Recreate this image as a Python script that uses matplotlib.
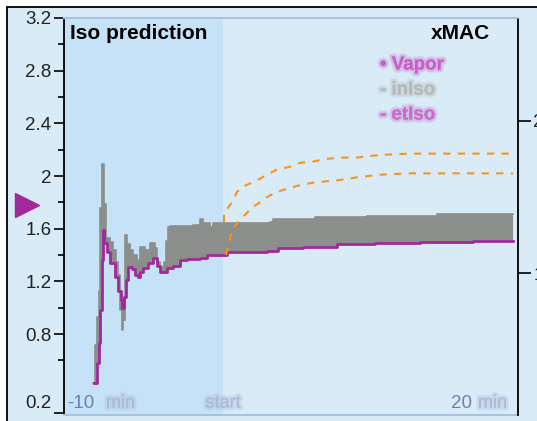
import matplotlib
matplotlib.use("Agg")
import numpy as np
import matplotlib.pyplot as plt
import matplotlib.patheffects as pe
from matplotlib.transforms import blended_transform_factory, ScaledTranslation

plt.rcParams['font.family'] = ['Liberation Sans', 'DejaVu Sans']

# --- data (time in minutes relative to now, concentrations in %) ---
et_t = [-8.09, -7.94, -7.78, -7.74, -7.63, -7.57, -7.48, -7.36, -7.28, -7.11,
        -6.79, -6.58, -6.43, -6.33, -6.23, -6.10, -5.96, -5.74, -5.53, -5.33,
        -5.22, -5.01, -4.70, -4.38, -4.17, -3.96, -3.75, -3.54, -3.12, -2.70,
        -2.28, -1.87, -1.45, -1.03, -0.61, 0.23, 1.07, 2.75, 3.46, 5.03,
        7.17, 9.56, 12.39, 15.72, 18.24]
et_iso = [0.43, 0.58, 0.73, 0.98, 1.36, 1.59, 1.49, 1.49, 1.42, 1.34,
          1.23, 1.13, 1.06, 1.00, 1.08, 1.21, 1.31, 1.29, 1.25, 1.23,
          1.27, 1.30, 1.34, 1.38, 1.32, 1.27, 1.27, 1.30, 1.32, 1.36,
          1.37, 1.37, 1.38, 1.40, 1.40, 1.42, 1.42, 1.43, 1.45, 1.46,
          1.48, 1.49, 1.50, 1.51, 1.51]

in_t = [-8.18, -8.05, -7.92, -7.80, -7.74, -7.61, -7.48, -7.36, -7.11, -6.92,
        -6.73, -6.58, -6.48, -6.38, -6.29, -6.16, -6.04, -5.85, -5.66, -5.41,
        -5.22, -4.91, -4.59, -4.28, -4.15, -3.96, -3.71, -3.58, -3.46, -3.33,
        -1.89, -1.45, -1.26, -0.82, -0.63, 2.96, 3.14, 5.79, 9.06, 13.46, 18.24]
in_iso = [0.43, 0.72, 0.93, 1.13, 1.76, 2.09, 1.79, 1.53, 1.50, 1.44,
          1.35, 1.25, 0.98, 0.83, 0.91, 1.55, 1.48, 1.44, 1.40, 1.36,
          1.46, 1.44, 1.49, 1.45, 1.35, 1.31, 1.35, 1.51, 1.61, 1.62,
          1.63, 1.67, 1.64, 1.61, 1.64, 1.65, 1.67, 1.69, 1.70, 1.71, 1.71]

pred_hi_t = [0.06, 0.06, 0.57, 0.88, 1.26, 1.82, 2.33, 2.77, 3.40, 4.21, 4.84,
             5.66, 6.54, 7.36, 8.43, 9.87, 11.76, 13.46, 18.24]
pred_hi = [1.65, 1.72, 1.80, 1.88, 1.92, 1.95, 1.98, 2.01, 2.05, 2.07, 2.10,
           2.11, 2.13, 2.14, 2.14, 2.16, 2.17, 2.17, 2.17]

pred_lo_t = [0.19, 0.57, 0.88, 1.26, 1.82, 2.33, 2.77, 3.40, 4.21, 4.84,
             5.66, 6.54, 7.36, 8.43, 9.87, 11.76, 13.46, 18.24]
pred_lo = [1.40, 1.59, 1.64, 1.69, 1.76, 1.80, 1.84, 1.88, 1.91, 1.93,
           1.95, 1.96, 1.97, 1.99, 2.01, 2.02, 2.02, 2.02]

vapor_setting = 1.78

y_major = [0.2, 0.8, 1.2, 1.6, 2.0, 2.4, 2.8, 3.2]
y_major_labels = ["0.2", "0.8", "1.2", "1.6", "2", "2.4", "2.8", "3.2"]
y_minor = [0.6, 1.0, 1.4, 1.8, 2.2, 2.6, 3.0]
mac_ticks = [1, 2]
mac_labels = ["1", "2"]

legend_items = [("\u2022 Vapor", "#c85ac8"), ("- inIso", "#b3b8b4"), ("- etIso", "#c868c8")]

# --- colours ---
BG = "#d9ebf6"
PAST = "#c6e2f7"
BAND = "#8b8e8a"
PURPLE = "#a0299c"
ORANGE = "#f7931e"
EDGE = "#a8c3dd"
AXLBL = "#7080b0"


def step_hold(t_src, v_src, t_new):
    """Value of a steps-post series at each time in t_new."""
    idx = np.searchsorted(t_src, t_new, side="right") - 1
    idx = np.clip(idx, 0, len(v_src) - 1)
    return np.asarray(v_src)[idx]


fig = plt.figure(figsize=(5.37, 4.21), dpi=100)
fig.patch.set_facecolor("white")

# outer panel with black frame on the left/top
panel = plt.Rectangle((7 / 537, -0.05), 1.0, 1 - 7 / 421 + 0.05, transform=fig.transFigure,
                      facecolor=BG, edgecolor="black", linewidth=1.3, zorder=-10)
fig.patches.append(panel)

ax = fig.add_axes([64 / 537, 6 / 421, 454 / 537, 397 / 421])
ax.set_facecolor(BG)
ax.set_xlim(-10, 18.55)
ax.set_ylim(0.2 - 2 / 131.67, 3.2)

ax.axvspan(-10, 0, color=PAST, lw=0, zorder=0)

# inspired / end-tidal band
t_all = np.union1d(in_t, et_t)
in_i = step_hold(in_t, in_iso, t_all)
et_i = step_hold(et_t, et_iso, t_all)
ax.fill_between(t_all, in_i, et_i, step="post", color=BAND, lw=0, zorder=2)
ax.plot(in_t, in_iso, drawstyle="steps-post", color=BAND, lw=1.2, zorder=2)
ax.plot(et_t, et_iso, drawstyle="steps-post", color=PURPLE, lw=2.0, zorder=3)

# predictions
ax.plot(pred_hi_t, pred_hi, color=ORANGE, lw=1.5, ls=(0, (3.5, 3.5)), zorder=4)
ax.plot(pred_lo_t, pred_lo, color=ORANGE, lw=1.5, ls=(0, (3.5, 3.5)), zorder=4)

# spines
for side in ("top", "bottom"):
    ax.spines[side].set_color(EDGE)
    ax.spines[side].set_linewidth(1.5)
ax.spines["left"].set_linestyle((0, (1, 1)))
ax.spines["left"].set_linewidth(1.3)
ax.spines["right"].set_visible(False)

ax.set_yticks(y_major)
ax.set_yticklabels(y_major_labels)
ax.set_yticks(y_minor, minor=True)
ax.tick_params(axis="y", which="major", length=7, width=1.2, labelsize=13.5,
               labelcolor="#222222", pad=2)
ax.tick_params(axis="y", which="minor", length=4, width=1.2)
ax.set_xticks([])
# lowest label sits just above its tick
lowest = ax.get_yticklabels()[0]
lowest.set_transform(lowest.get_transform() + ScaledTranslation(0, 8 / 72, fig.dpi_scale_trans))

# right xMAC axis
ax2 = ax.twinx()
ax2.set_ylim(1 - (415 - 273) / 152, 2 + (121 - 18) / 152)
ax2.set_yticks(mac_ticks)
ax2.set_yticklabels(mac_labels)
ax2.tick_params(axis="y", length=9, width=1.2, labelsize=13.5, labelcolor="#222222", pad=2)
for side in ("top", "bottom", "left"):
    ax2.spines[side].set_visible(False)
ax2.spines["right"].set_linestyle((0, (1, 1)))
ax2.spines["right"].set_linewidth(1.3)
ax2.set_xticks([])

# vapor setting marker on the left
trans = blended_transform_factory(fig.transFigure, ax.transData)
ax.plot([27 / 537], [vapor_setting], marker=">", ms=17, color=PURPLE, mec=PURPLE,
        transform=trans, clip_on=False, zorder=5)

# headings
ax.text(6 / 454, 0.96, "Iso prediction", transform=ax.transAxes, fontsize=15,
        fontweight="bold", va="center", ha="left", color="black")
ax.text(426 / 454, 0.96, "xMAC", transform=ax.transAxes, fontsize=15,
        fontweight="bold", va="center", ha="right", color="black")


def soft_text(x, y, s, color, size, ha="left", weight="bold"):
    ax.text(x, y, s, transform=ax.transAxes, fontsize=size, color=color, alpha=0.55,
            ha=ha, va="center", fontweight=weight,
            path_effects=[pe.withStroke(linewidth=5, foreground=color, alpha=0.12),
                          pe.withStroke(linewidth=3, foreground=color, alpha=0.25),
                          pe.Normal()])


for i, (label, col) in enumerate(legend_items):
    soft_text(316 / 454, (415 - 63 - i * 25) / 397 - 0.005, label, col, 13.5)

# time labels along the bottom
ax.text(3 / 454, 12 / 397, "-10", transform=ax.transAxes, fontsize=13.5, color=AXLBL,
        ha="left", va="center")
soft_text(42 / 454, 12 / 397, "min", "#a9b8d6", 13, weight="normal")
soft_text(159 / 454, 12 / 397, "start", "#a9b8d6", 13, ha="center", weight="normal")
ax.text(408 / 454, 12 / 397, "20", transform=ax.transAxes, fontsize=13.5, color=AXLBL,
        ha="right", va="center")
soft_text(414 / 454, 12 / 397, "min", "#a9b8d6", 13, weight="normal")

fig.savefig("out.png", dpi=100, facecolor=fig.get_facecolor())
